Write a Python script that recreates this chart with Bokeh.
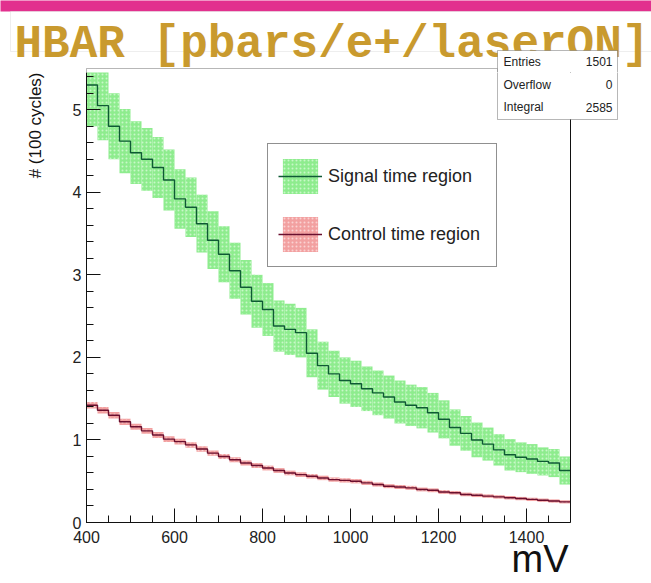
from bokeh.plotting import figure
from bokeh.layouts import column, row
from bokeh.models import (Label, BoxAnnotation, Legend, LegendItem, FixedTicker,
                          Range1d, ColumnDataSource, Title)
from bokeh.embed import file_html
from bokeh.resources import INLINE

# ---------------- data ----------------
BIN_WIDTH = 25
bin_left = list(range(400, 1500, BIN_WIDTH))          # 44 bins, 400..1475 mV

signal = [5.30, 5.05, 4.80, 4.62, 4.48, 4.40, 4.30, 4.15, 3.92, 3.82,
          3.62, 3.42, 3.25, 3.05, 2.85, 2.68, 2.58, 2.38, 2.34, 2.30,
          2.05, 1.90, 1.80, 1.72, 1.68, 1.62, 1.57, 1.52, 1.46, 1.42,
          1.39, 1.33, 1.25, 1.15, 1.08, 1.00, 0.95, 0.88, 0.82, 0.79,
          0.77, 0.74, 0.72, 0.63]
signal_err = [0.50, 0.42, 0.40, 0.39, 0.38, 0.38, 0.37, 0.37, 0.36, 0.36,
              0.35, 0.35, 0.34, 0.34, 0.33, 0.32, 0.32, 0.31, 0.31, 0.30,
              0.29, 0.29, 0.28, 0.28, 0.28, 0.27, 0.27, 0.26, 0.26, 0.25,
              0.25, 0.24, 0.23, 0.22, 0.21, 0.21, 0.20, 0.19, 0.19, 0.18,
              0.18, 0.17, 0.17, 0.17]
control = [1.42, 1.36, 1.30, 1.22, 1.16, 1.11, 1.06, 1.01, 0.98, 0.94,
           0.89, 0.84, 0.80, 0.76, 0.72, 0.69, 0.66, 0.63, 0.60, 0.58,
           0.56, 0.54, 0.52, 0.51, 0.50, 0.48, 0.46, 0.44, 0.43, 0.42,
           0.40, 0.39, 0.37, 0.36, 0.34, 0.33, 0.32, 0.31, 0.30, 0.29,
           0.28, 0.27, 0.26, 0.25]
control_err = [0.040, 0.040, 0.039, 0.038, 0.037, 0.036, 0.035, 0.035, 0.034, 0.033,
               0.033, 0.032, 0.031, 0.031, 0.030, 0.030, 0.029, 0.029, 0.028, 0.028,
               0.027, 0.027, 0.026, 0.026, 0.026, 0.025, 0.025, 0.024, 0.024, 0.024,
               0.023, 0.023, 0.023, 0.022, 0.022, 0.022, 0.021, 0.021, 0.021, 0.020,
               0.020, 0.020, 0.020, 0.019]

x_bounds = (400, 1500)
y_bounds = (0, 5.5)
x_ticks = [400, 600, 800, 1000, 1200, 1400]
y_ticks = [0, 1, 2, 3, 4, 5]
series_names = ["Signal time region", "Control time region"]
stats_names = ["Entries", "Overflow", "Integral"]
stats_values = ["1501", "0", "2585"]
title_text = "HBAR [pbars/e+/laserON]"
x_label = "mV"
y_label = "# (100 cycles)"

# ---------------- page geometry (pixels from top-left) ----------------
W, H = 651, 583
TOP_H = 72                      # height of the title strip
FL, FB = 86, 522                # histogram frame left / bottom
AX_R, AX_T = 570, 68            # histogram box right / top
px_per_x = (AX_R - FL) / (x_bounds[1] - x_bounds[0])
px_per_y = (FB - AX_T) / (y_bounds[1] - y_bounds[0])
x_end = x_bounds[0] + (W - FL) / px_per_x
y_end = y_bounds[0] + (FB - TOP_H) / px_per_y

STATS = dict(l=497, r=617, t=50, b=119)
STATS_ROWS = [61, 84, 106.5]
STAT_FONT = "12px"


def make_tools(fig, ox, oy_bottom):
    """Helpers to place boxes / labels of a figure in page pixels."""
    def box(l, r, t, b, fill, line=None, fill_alpha=1.0):
        fig.add_layout(BoxAnnotation(
            left=l - ox, right=r - ox, top=oy_bottom - t, bottom=oy_bottom - b,
            left_units="screen", right_units="screen",
            top_units="screen", bottom_units="screen",
            fill_color=fill, fill_alpha=fill_alpha, line_color=line, line_width=1,
            level="overlay"))

    def label(X, Y, text, size, font="Liberation Sans", align="left",
              baseline="middle", color="#222222", style="normal"):
        fig.add_layout(Label(x=X - ox, y=oy_bottom - Y, x_units="screen",
                             y_units="screen", text=text, text_font=font,
                             text_font_size=size, text_align=align,
                             text_baseline=baseline, text_color=color,
                             text_font_style=style, level="overlay"))
    return box, label


# ---------------- title strip ----------------
top = figure(width=W, height=TOP_H, output_backend="svg", toolbar_location=None,
             x_axis_type=None, y_axis_type=None,
             x_range=Range1d(0, W), y_range=Range1d(0, TOP_H),
             min_border=0, min_border_left=0, min_border_right=0,
             min_border_top=0, min_border_bottom=0)
top.outline_line_color = None
top.background_fill_color = "white"
top.border_fill_color = "white"
top.xgrid.visible = False
top.ygrid.visible = False

tbox, tlabel = make_tools(top, 0, TOP_H)
tbox(-2, W + 2, -2, 11, "#E2308E")
tbox(10, W + 2, 11, 51, "white", line="#C8C8C8")
tlabel(14, 44, title_text, "46px", font="Liberation Mono", baseline="alphabetic",
       color="#C99A2E", style="bold")
# top edge of the histogram box and the top of its left edge
tbox(FL, STATS["l"], AX_T, TOP_H + 10, None, line="#111111", fill_alpha=0.0)
tbox(STATS["l"], STATS["r"], STATS["t"], STATS["b"], "white", line="#111111")
tlabel(503, STATS_ROWS[0], stats_names[0], STAT_FONT)
tlabel(612, STATS_ROWS[0], stats_values[0], STAT_FONT, align="right")

# ---------------- histogram ----------------
p = figure(width=W, height=H - TOP_H, output_backend="svg",
           toolbar_location=None,
           x_range=Range1d(x_bounds[0], x_end), y_range=Range1d(y_bounds[0], y_end),
           min_border_left=FL, min_border_right=0,
           min_border_top=0, min_border_bottom=H - FB)
p.background_fill_color = "white"
p.border_fill_color = "white"
p.outline_line_color = None
p.xgrid.visible = False
p.ygrid.visible = False


def band_source(vals, errs):
    return ColumnDataSource(dict(
        left=bin_left,
        right=[b + BIN_WIDTH for b in bin_left],
        bottom=[v - e for v, e in zip(vals, errs)],
        top=[min(v + e, y_bounds[1]) for v, e in zip(vals, errs)]))


def step_source(vals):
    return ColumnDataSource(dict(x=bin_left + [bin_left[-1] + BIN_WIDTH],
                                 y=vals + [vals[-1]]))


sig_band = p.quad(left="left", right="right", bottom="bottom", top="top",
                  source=band_source(signal, signal_err),
                  fill_color="#8EEC8E", line_color=None,
                  hatch_pattern="dot", hatch_color="#C9F7C9", hatch_scale=4,
                  hatch_weight=1)
ctl_band = p.quad(left="left", right="right", bottom="bottom", top="top",
                  source=band_source(control, control_err),
                  fill_color="#F2A0A0", line_color=None,
                  hatch_pattern="dot", hatch_color="#FAD2D2", hatch_scale=4,
                  hatch_weight=1)
sig_line = p.step(x="x", y="y", source=step_source(signal), mode="after",
                  line_color="#0E5A34", line_width=1.4)
ctl_line = p.step(x="x", y="y", source=step_source(control), mode="after",
                  line_color="#6A0F2E", line_width=1.4)

# right edge of the histogram box
p.segment(x0=[x_bounds[1]], y0=[y_bounds[0]], x1=[x_bounds[1]], y1=[y_bounds[1]],
          line_color="#111111", line_width=1)

xa, ya = p.xaxis[0], p.yaxis[0]
for ax in (xa, ya):
    ax.major_tick_in = 14
    ax.major_tick_out = 0
    ax.minor_tick_in = 7
    ax.minor_tick_out = 0
    ax.axis_line_color = "#111111"
    ax.major_tick_line_color = "#111111"
    ax.minor_tick_line_color = "#111111"
    ax.major_label_text_font = "Liberation Sans"
    ax.major_label_text_font_size = "16px"
    ax.major_label_text_color = "#222222"

xa.bounds = x_bounds
ya.bounds = y_bounds
xa.ticker = FixedTicker(ticks=x_ticks, minor_ticks=list(range(400, 1501, 50)))
ya.ticker = FixedTicker(ticks=y_ticks, minor_ticks=[i / 5 for i in range(0, 28)])
xa.major_label_standoff = 8
ya.major_label_standoff = 5

# axis titles, pushed to the ends of the axes (ROOT style)
p.add_layout(Title(text=y_label, align="right", vertical_align="top",
                   text_font="Liberation Sans", text_font_size="17px",
                   text_font_style="normal", text_color="#111111",
                   standoff=46), "left")
p.add_layout(Title(text=x_label, align="right", vertical_align="top",
                   text_font="Liberation Sans", text_font_size="38px",
                   text_font_style="normal", text_color="#111111",
                   standoff=-15, offset=W - 568), "below")

mbox, mlabel = make_tools(p, FL, FB)
legend = Legend(items=[LegendItem(label=series_names[0], renderers=[sig_band, sig_line]),
                       LegendItem(label=series_names[1], renderers=[ctl_band, ctl_line])],
                location=(267 - FL, FB - 267),
                glyph_width=44, glyph_height=44, spacing=14, padding=10,
                label_standoff=6, label_width=158, margin=0,
                label_text_font="Liberation Sans", label_text_font_size="18px",
                label_text_color="#222222",
                border_line_color="#222222", border_line_width=1,
                background_fill_color="white", background_fill_alpha=1.0)
p.add_layout(legend)

mbox(STATS["l"], STATS["r"], TOP_H - 8, STATS["b"], "white", line="#111111")
for name, val, yy in zip(stats_names[1:], stats_values[1:], STATS_ROWS[1:]):
    mlabel(503, yy, name, STAT_FONT)
    mlabel(612, yy, val, STAT_FONT, align="right")

layout = column(top, row(p, spacing=0), spacing=0)
open("out.html", "w").write(file_html(layout, INLINE))
